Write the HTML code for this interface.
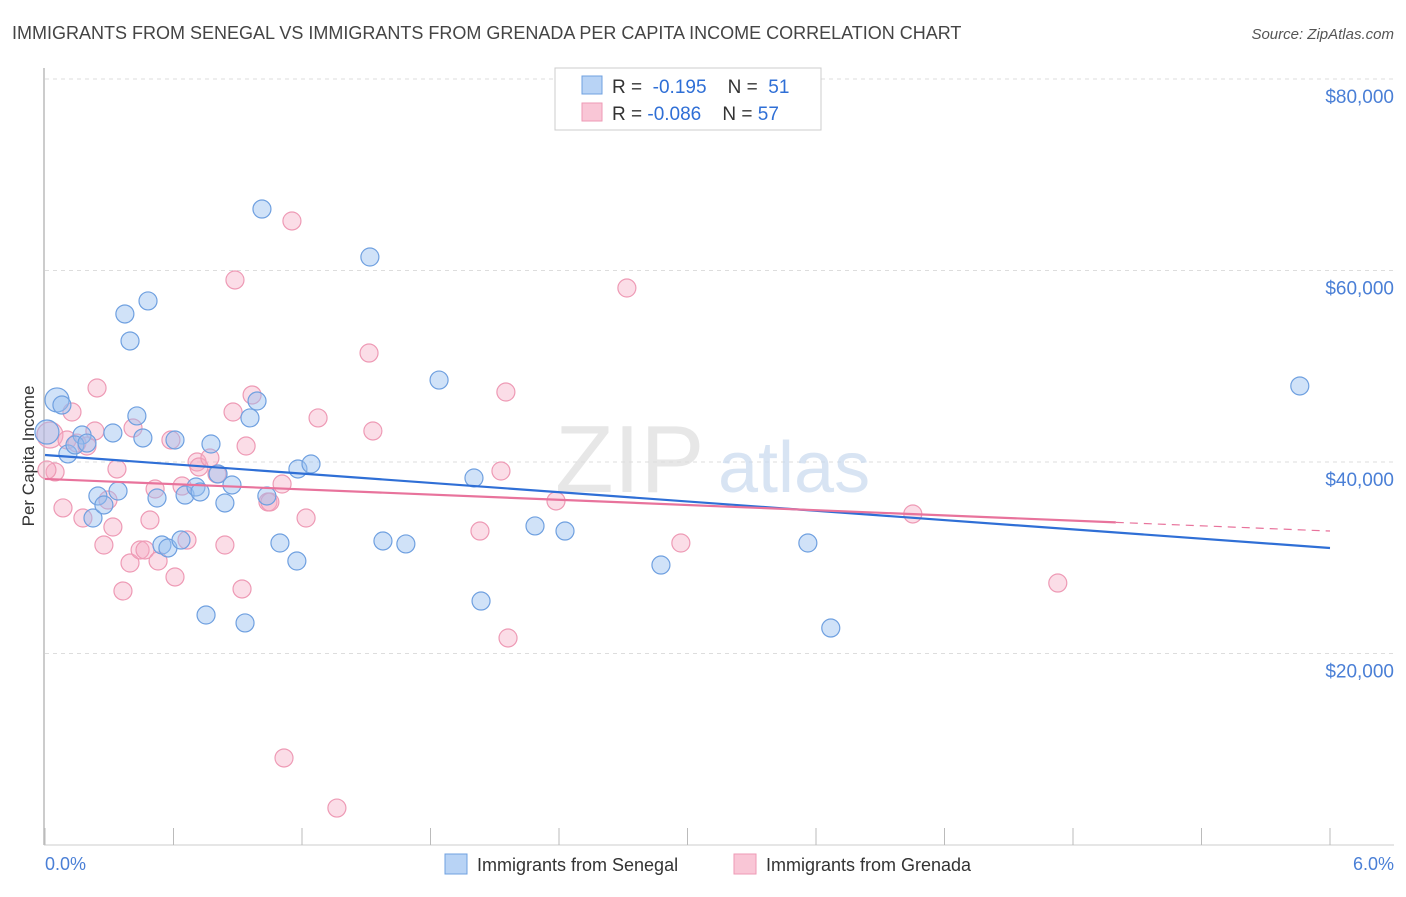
<!DOCTYPE html>
<html><head><meta charset="utf-8"><style>
body{margin:0;background:#fff;font-family:"Liberation Sans",sans-serif;}
svg text{font-family:"Liberation Sans",sans-serif;}
</style></head><body>
<svg id="chart" width="1406" height="892" xmlns="http://www.w3.org/2000/svg">
<text x="12" y="39" font-size="18" fill="#444">IMMIGRANTS FROM SENEGAL VS IMMIGRANTS FROM GRENADA PER CAPITA INCOME CORRELATION CHART</text>
<text x="1394" y="39" font-size="15" fill="#555" text-anchor="end" font-style="italic">Source: ZipAtlas.com</text>
<g id="grid"></g>
<text x="555" y="492" font-size="96" fill="#ddd" font-family="Liberation Serif" opacity="0.7">ZIP</text>
<text x="718" y="492" font-size="72" fill="#c8d9ef" opacity="0.7">atlas</text>
<line x1="44" y1="68" x2="44" y2="845" stroke="#bbb" stroke-width="1.5"/>
<line x1="44" y1="845" x2="1394" y2="845" stroke="#ccc" stroke-width="1"/>
<g id="ticks"></g>
<g id="pts"></g>
<g id="trends"></g>
<text transform="translate(34,456) rotate(-90)" font-size="17" fill="#333" text-anchor="middle">Per Capita Income</text>
<text x="45" y="870" font-size="18" fill="#4a7fd6">0.0%</text>
<text x="1394" y="870" font-size="18" fill="#4a7fd6" text-anchor="end">6.0%</text>
<g>
<rect x="555" y="68" width="266" height="62" fill="#fff" stroke="#ccc"/>
<rect x="582" y="76" width="20" height="18" fill="#b8d3f5" stroke="#6fa0e0"/>
<rect x="582" y="103" width="20" height="18" fill="#f9c6d6" stroke="#ee9ab5"/>
<text x="612" y="93" font-size="19" fill="#333">R = <tspan fill="#2f6fd6">&#160;-0.195</tspan>&#160;&#160;&#160; N = <tspan fill="#2f6fd6">&#160;51</tspan></text>
<text x="612" y="120" font-size="19" fill="#333">R = <tspan fill="#2f6fd6">-0.086</tspan>&#160;&#160;&#160; N = <tspan fill="#2f6fd6">57</tspan></text>
</g>
<g>
<rect x="445" y="854" width="22" height="20" fill="#b8d3f5" stroke="#6fa0e0"/>
<text x="477" y="871" font-size="18" fill="#333">Immigrants from Senegal</text>
</g>
<g>
<rect x="734" y="854" width="22" height="20" fill="#f9c6d6" stroke="#ee9ab5"/>
<text x="766" y="871" font-size="18" fill="#333">Immigrants from Grenada</text>
</g>
</svg>
<script>
const yTicks=[20000,40000,60000,80000];
const yTickLabels=["$20,000","$40,000","$60,000","$80,000"];
const xTicks=[0,0.6,1.2,1.8,2.4,3.0,3.6,4.2,4.8,5.4,6.0];
const senegalX=[0.056,0.079,0.107,0.173,0.140,0.196,0.224,0.247,0.275,0.317,0.341,0.373,0.397,0.429,0.457,0.481,0.523,0.546,0.574,0.607,0.635,0.654,0.705,0.724,0.752,0.775,0.808,0.840,0.873,0.934,0.957,0.990,1.013,1.036,1.097,1.176,1.181,1.242,1.517,1.578,1.685,1.840,2.003,2.036,2.288,2.428,2.876,3.562,3.669,5.859,0.009];
const senegalY=[46480,45950,40840,42820,41780,41980,34150,36450,35510,43030,36970,55460,52640,44810,42510,56820,36240,31330,31020,42300,31850,36550,37390,36870,24020,41880,38750,35720,37600,23190,44600,46370,66420,36450,31540,29660,39270,39790,61410,31750,31440,48560,38330,25480,33320,32790,29240,31540,22660,47940,43130];
const grenadaX=[0.023,0.047,0.084,0.103,0.126,0.149,0.177,0.196,0.243,0.233,0.275,0.294,0.317,0.336,0.364,0.397,0.411,0.444,0.467,0.490,0.514,0.528,0.588,0.607,0.640,0.663,0.710,0.719,0.770,0.803,0.840,0.878,0.887,0.920,0.939,0.967,1.041,1.107,1.116,1.153,1.219,1.275,1.363,1.513,1.531,2.031,2.129,2.152,2.162,2.386,2.717,2.969,4.052,4.729,1.050,0.009];
const grenadaY=[42820,38960,35200,42300,45220,41980,34150,41670,47730,43240,31330,36030,33210,39270,26530,29450,43550,30810,30810,33940,37180,29660,42300,27990,37490,31850,40000,39480,40420,38750,31330,45220,59010,26740,41670,47000,35820,37700,9090,65170,34150,44600,3860,51380,43240,32790,39060,47310,21620,35930,58170,31540,34570,27360,35820,39170];
const senegalTrend=[40730,31020];
const grenadaTrend=[38230,32790];
const grenadaSolidEnd=5.0;
const NS="http://www.w3.org/2000/svg";
function sx(v){return 45+v/6*1285;}
function sy(v){return 845-v/20000*191.5;}
function mk(tag,attrs,parent){const e=document.createElementNS(NS,tag);for(const k in attrs)e.setAttribute(k,attrs[k]);parent.appendChild(e);return e;}
const grid=document.getElementById('grid');
yTicks.forEach((t,i)=>{
 const l=mk('line',{x1:45,x2:1394,y1:sy(t),y2:sy(t),stroke:'#ddd','stroke-dasharray':'4,4'},grid);
 
 
 const tx=mk('text',{x:1394,y:sy(t)+24,'font-size':19,fill:'#4a7fd6','text-anchor':'end'},grid);
 tx.textContent=yTickLabels[i];
 
 
});
const tk=document.getElementById('ticks');
xTicks.forEach(t=>{
 const l=mk('line',{x1:sx(t),x2:sx(t),y1:828,y2:845,stroke:'#bbb'},tk);
 
 
});
const pts=document.getElementById('pts');
grenadaX.forEach((x,i)=>{
 const c=mk('circle',{cx:sx(x),cy:sy(grenadaY[i]),r:(i==0?13:9),fill:'rgba(245,170,195,0.4)',stroke:'#ee9ab5','stroke-width':1.2},pts);
 
 
});
senegalX.forEach((x,i)=>{
 const c=mk('circle',{cx:sx(x),cy:sy(senegalY[i]),r:(i==0||i==50?12:9),fill:'rgba(150,190,240,0.45)',stroke:'#6fa0e0','stroke-width':1.2},pts);
 
 
});
const tr=document.getElementById('trends');
const b=mk('line',{x1:sx(0),y1:sy(senegalTrend[0]),x2:sx(6),y2:sy(senegalTrend[1]),stroke:'#2f6fd6','stroke-width':2.2},tr);


const gyEnd=grenadaTrend[0]+(grenadaTrend[1]-grenadaTrend[0])*grenadaSolidEnd/6;
const p=mk('line',{x1:sx(0),y1:sy(grenadaTrend[0]),x2:sx(grenadaSolidEnd),y2:sy(gyEnd),stroke:'#e8739c','stroke-width':2.2},tr);


const pd=mk('line',{x1:sx(grenadaSolidEnd),y1:sy(gyEnd),x2:sx(6),y2:sy(grenadaTrend[1]),stroke:'#e8739c','stroke-width':1.2,'stroke-dasharray':'8,6'},tr);


</script>
</body></html>
